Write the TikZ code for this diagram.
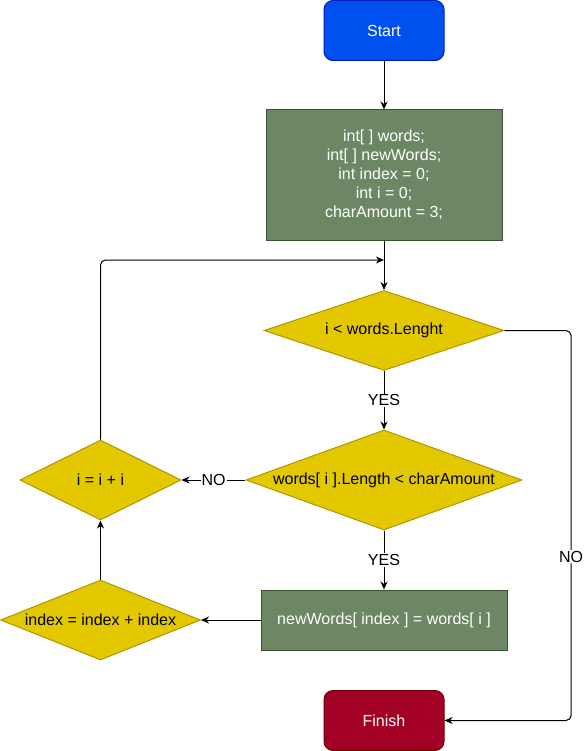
\documentclass[tikz,border=0pt]{standalone}
\usepackage{fontspec}
\setmainfont{Liberation Sans}
\usetikzlibrary{shapes.geometric,arrows.meta}
\definecolor{startfill}{HTML}{0050EF}
\definecolor{startdraw}{HTML}{001DBC}
\definecolor{procfill}{HTML}{6D8764}
\definecolor{procdraw}{HTML}{3A5431}
\definecolor{decfill}{HTML}{E3C800}
\definecolor{decdraw}{HTML}{B09500}
\definecolor{finfill}{HTML}{A20025}
\definecolor{findraw}{HTML}{6F0000}
\begin{document}
\begin{tikzpicture}[x=1pt,y=-1pt,
  every node/.style={font=\fontsize{16}{19}\selectfont},
  base/.style={draw, line width=1pt, inner sep=0pt},
  term/.style={base, rounded corners=9pt, minimum width=120pt, minimum height=60pt, text=white},
  proc/.style={base, fill=procfill, draw=procdraw, text=white, align=center},
  dec/.style={base, shape=diamond, fill=decfill, draw=decdraw},
  dectext/.style={text=black},
  arr/.style={draw=black, line width=1pt, -{Stealth[length=8pt,width=7pt,inset=2.5pt]}},
  lbl/.style={fill=white, inner sep=1pt, text=black, font=\fontsize{16}{19}\selectfont}
]
\useasboundingbox (0,0) rectangle (583,751);

\node[term, fill=startfill, draw=startdraw] (start) at (384,30.5) {Start};
\node[proc, minimum width=236pt, minimum height=130pt] (init) at (384,175)
  {int[ ] words;\\int[ ] newWords;\\int index = 0;\\int i = 0;\\charAmount = 3;};
\node[dec, minimum width=240pt, minimum height=80pt,
  label={[dectext]center:{i < words.Lenght}}] (d1) at (384,330.5) {};
\node[dec, minimum width=276pt, minimum height=100pt,
  label={[dectext]center:{words[ i ].Length < charAmount}}] (d2) at (384,480) {};
\node[dec, minimum width=161pt, minimum height=80pt,
  label={[dectext]center:{i = i + i}}] (d3) at (100.5,480) {};
\node[dec, minimum width=200pt, minimum height=80pt,
  label={[dectext]center:{index = index + index}}] (d4) at (100.5,620) {};
\node[proc, minimum width=246pt, minimum height=60pt] (upd) at (384,620)
  {newWords[ index ] = words[ i ]};
\node[term, fill=finfill, draw=findraw, minimum height=60pt] (fin) at (384,720.5) {Finish};

\coordinate (loop) at (384,260);
\coordinate (c1) at (571,330.5);
\coordinate (c2) at (571,720.5);

\draw[arr] (start) -- (init);
\draw[arr] (init) -- (d1);
\draw[arr] (d1) -- node[lbl]{YES} (d2);
\draw[arr] (d2) -- node[lbl]{YES} (upd);
\draw[arr] (d2) -- node[lbl]{NO} (d3);
\draw[arr] (upd) -- (d4);
\draw[arr] (d4) -- (d3);
\draw[arr, rounded corners=5pt] (d3.north) |- (loop);
\draw[arr, rounded corners=5pt] (d1.east) -- (c1) -- node[lbl, pos=0.58]{NO} (c2) -- (fin.east);
\end{tikzpicture}
\end{document}
